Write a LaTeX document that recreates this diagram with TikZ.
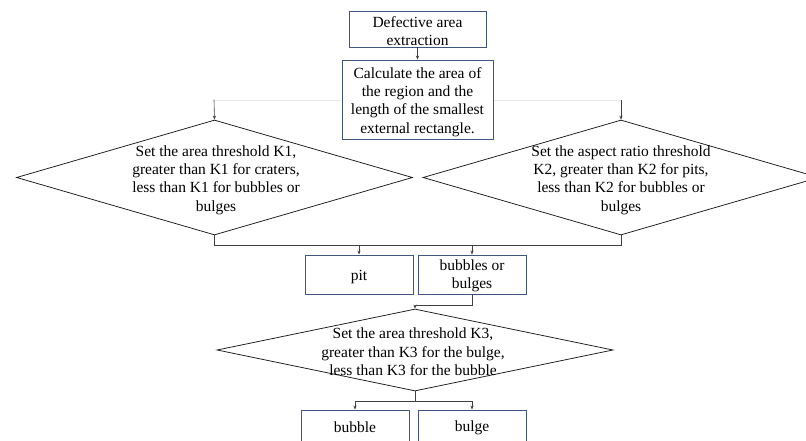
\documentclass[tikz,border=0pt]{standalone}
\usepackage{fontspec}
\setmainfont{Liberation Serif}
\usetikzlibrary{shapes.geometric,arrows.meta}
\definecolor{boxblue}{RGB}{62,86,128}
\definecolor{faintgray}{RGB}{232,232,232}
\begin{document}
\begin{tikzpicture}[x=1pt,y=-1pt,
  every node/.style={font=\fontsize{15.5}{18.4}\selectfont},
  pbox/.style={draw=boxblue,line width=0.9pt,fill=white,inner sep=0pt},
  dia/.style={draw=black!90,line width=0.75pt,diamond,inner sep=0pt,minimum width=396pt},
  txt/.style={align=center,inner sep=0pt},
  conn/.style={draw=black!75,line width=0.6pt},
  arr/.style={conn,-{Stealth[length=4pt,width=3.2pt]}}]
\clip (0,0) rectangle (806,441);
\fill[white] (0,0) rectangle (806,441);
\coordinate (t1) at (214,100);
\coordinate (t2) at (621,100);
\draw[faintgray,line width=0.6pt] (t1) -- (t2);
\node[pbox,minimum width=137pt,minimum height=36pt,label={[txt,yshift=-2pt]center:{Defective area\\extraction}}] (b1) at (417.5,29) {};
\node[pbox,minimum width=151pt,minimum height=79pt,label={[txt,yshift=-2.5pt]center:{Calculate the area of\\the region and the\\length of the smallest\\external rectangle.}}] (b2) at (417.5,99.5) {};
\node[dia,minimum height=115pt] (d1) at (214.5,177.5) {};
\node[txt] (d1t) at (216,180) {Set the area threshold K1,\\greater than K1 for craters,\\less than K1 for bubbles or\\bulges};
\node[dia,minimum height=115pt] (d2) at (621,177.5) {};
\node[txt] (d2t) at (621,180) {Set the aspect ratio threshold\\K2, greater than K2 for pits,\\less than K2 for bubbles or\\bulges};
\node[pbox,minimum width=108pt,minimum height=39pt,label={[txt,yshift=-3pt]center:pit}] (pit) at (359,274.5) {};
\node[pbox,minimum width=108pt,minimum height=39pt,label={[txt,yshift=-1.5pt]center:{bubbles or\\bulges}}] (bub) at (472,274.5) {};
\node[dia,minimum height=82pt] (d3) at (415,350) {};
\node[txt] (d3t) at (413,352) {Set the area threshold K3,\\greater than K3 for the bulge,\\less than K3 for the bubble};
\node[pbox,minimum width=108pt,minimum height=31pt,label={[txt,yshift=-2pt]center:bubble}] (bbl) at (355,425.5) {};
\node[pbox,minimum width=108pt,minimum height=31pt,label={[txt,yshift=-2pt]center:bulge}] (blg) at (472,425.5) {};
\draw[arr] (b1.south) -- (b2.north);
\draw[arr] (t1) -- (d1.north);
\draw[arr] (t2) -- (d2.north);
\draw[conn] (d1.south) -- ++(0,10) coordinate (j1) -- (j1 -| d2.south) -- (d2.south);
\draw[arr] (j1 -| pit.north) -- (pit.north);
\draw[arr] (j1 -| bub.north) -- (bub.north);
\draw[arr] (bub.south) -- ++(0,11) -| (d3.north);
\draw[conn] (d3.south) -- ++(0,10) coordinate (j3);
\draw[conn] (j3 -| bbl.north) -- (j3 -| blg.north);
\draw[arr] (j3 -| bbl.north) -- (bbl.north);
\draw[arr] (j3 -| blg.north) -- (blg.north);
\end{tikzpicture}
\end{document}
